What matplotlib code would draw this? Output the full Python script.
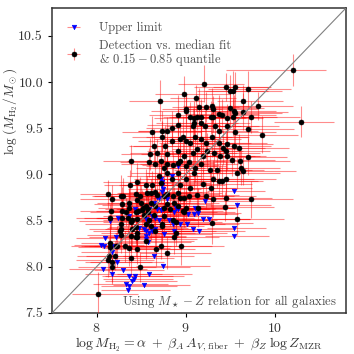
import matplotlib
matplotlib.use("Agg")
import matplotlib.pyplot as plt

plt.rcParams['font.family'] = 'serif'
plt.rcParams['font.serif'] = ['cmr10', 'DejaVu Serif']
plt.rcParams['mathtext.fontset'] = 'cm'
plt.rcParams['axes.formatter.use_mathtext'] = True

# detections: median fit (x) vs measured (y)
det_x = [10.21, 10.30, 9.21, 9.45, 9.50, 9.53, 9.56, 9.70, 8.98, 9.12,
         8.71, 9.01, 9.01, 9.15, 9.23, 9.30, 9.31, 9.50, 9.54, 9.56,
         9.65, 9.65, 9.81, 9.73, 8.92, 9.05, 9.10, 9.13, 9.17, 9.28,
         9.31, 9.37, 9.41, 9.47, 9.53, 8.92, 8.74, 8.79, 8.85, 9.09,
         9.08, 9.17, 9.22, 9.33, 9.38, 9.47, 9.56, 9.70, 9.86, 8.73,
         8.85, 8.94, 8.97, 9.01, 9.05, 9.11, 9.17, 9.23, 9.30, 9.38,
         9.42, 9.46, 9.54, 9.60, 8.64, 8.77, 8.60, 8.68, 8.66, 8.79,
         8.91, 8.98, 9.08, 9.13, 9.20, 9.24, 9.32, 9.39, 9.45, 9.47,
         9.52, 9.61, 9.70, 8.39, 8.59, 8.72, 8.79, 8.86, 8.92, 8.94,
         9.00, 9.04, 9.11, 9.17, 9.27, 9.35, 9.62, 9.64, 8.76, 8.38,
         8.45, 8.55, 8.62, 8.70, 8.72, 8.79, 8.85, 8.91, 8.94, 9.01,
         9.09, 9.20, 9.31, 9.37, 9.41, 9.45, 9.58, 8.13, 8.30, 8.27,
         8.44, 8.49, 8.57, 8.61, 8.66, 8.68, 8.76, 8.79, 8.86, 8.91,
         8.94, 8.98, 9.04, 9.13, 9.23, 9.31, 9.45, 9.73, 8.17, 8.29,
         8.36, 8.45, 8.50, 8.52, 8.56, 8.58, 8.61, 8.66, 8.76, 8.79,
         8.87, 8.92, 8.97, 9.01, 9.14, 9.44, 8.16, 8.29, 8.33, 8.36,
         8.44, 8.47, 8.51, 8.15, 8.29, 8.35, 8.40, 8.45, 8.53, 8.58,
         8.59, 8.65, 8.76, 8.86, 8.98, 9.30, 9.58, 8.27, 8.39, 8.44,
         8.55, 8.61, 8.73, 8.74, 8.89, 8.26, 8.28, 8.40, 8.45, 8.66,
         8.87, 8.89, 8.27, 8.39, 8.44, 8.45, 8.15, 8.15, 8.22, 8.23,
         8.32, 8.36, 8.45, 8.55, 8.67, 8.72, 8.95, 8.79, 8.14, 8.21,
         8.39, 8.13, 8.17, 8.49, 8.17, 8.02, 8.62, 9.28, 9.05, 8.83]
det_y = [10.13, 9.57, 9.98, 9.95, 9.90, 9.90, 9.95, 9.92, 9.87, 9.83,
         9.80, 9.71, 9.69, 9.73, 9.73, 9.74, 9.71, 9.72, 9.69, 9.66,
         9.79, 9.68, 9.74, 9.62, 9.64, 9.62, 9.61, 9.62, 9.62, 9.62,
         9.62, 9.65, 9.64, 9.61, 9.62, 9.54, 9.47, 9.47, 9.50, 9.56,
         9.52, 9.56, 9.52, 9.52, 9.47, 9.52, 9.46, 9.49, 9.43, 9.40,
         9.36, 9.38, 9.41, 9.36, 9.34, 9.41, 9.38, 9.34, 9.40, 9.34,
         9.29, 9.33, 9.31, 9.29, 9.31, 9.31, 9.22, 9.23, 9.11, 9.22,
         9.25, 9.20, 9.23, 9.27, 9.20, 9.25, 9.23, 9.20, 9.25, 9.20,
         9.16, 9.15, 9.19, 9.15, 9.13, 9.15, 9.11, 9.10, 9.12, 9.14,
         9.09, 9.13, 9.07, 9.11, 9.05, 9.05, 9.07, 9.04, 9.07, 8.89,
         8.92, 8.89, 8.89, 8.98, 8.91, 9.02, 8.95, 9.02, 8.89, 8.95,
         9.02, 8.90, 8.95, 8.93, 8.93, 8.95, 9.01, 8.79, 8.77, 8.77,
         8.79, 8.77, 8.80, 8.80, 8.81, 8.78, 8.77, 8.79, 8.77, 8.80,
         8.74, 8.74, 8.77, 8.78, 8.77, 8.73, 8.74, 8.73, 8.73, 8.68,
         8.69, 8.72, 8.69, 8.64, 8.66, 8.63, 8.69, 8.66, 8.64, 8.68,
         8.69, 8.66, 8.60, 8.64, 8.64, 8.65, 8.60, 8.60, 8.59, 8.64,
         8.59, 8.60, 8.61, 8.53, 8.53, 8.53, 8.51, 8.52, 8.56, 8.59,
         8.51, 8.56, 8.55, 8.51, 8.59, 8.47, 8.52, 8.46, 8.48, 8.43,
         8.46, 8.44, 8.46, 8.44, 8.48, 8.39, 8.41, 8.41, 8.37, 8.39,
         8.32, 8.37, 8.34, 8.33, 8.32, 8.32, 8.26, 8.21, 8.22, 8.22,
         8.22, 8.20, 8.19, 8.28, 8.19, 8.23, 8.23, 8.15, 8.12, 8.12,
         8.09, 8.07, 8.05, 8.00, 8.00, 7.70, 9.46, 8.85, 8.85, 8.62]
det_xlo = [0.76, 0.31, 0.30, 0.35, 0.28, 0.40, 0.25, 0.45, 0.32, 0.30,
           0.35, 0.28, 0.40, 0.30, 0.25, 0.33, 0.38, 0.30, 0.42, 0.28,
           0.30, 0.35, 0.27, 0.40, 0.33, 0.30, 0.45, 0.28, 0.36, 0.30,
           0.25, 0.38, 0.32, 0.40, 0.30, 0.35, 0.28, 0.33, 0.30, 0.42,
           0.30, 0.27, 0.36, 0.34, 0.40, 0.30, 0.28, 0.35, 0.30, 0.33,
           0.38, 0.30, 0.42, 0.28, 0.35, 0.30, 0.33, 0.40, 0.27, 0.36,
           0.30, 0.35, 0.40, 0.32, 0.28, 0.36, 0.33, 0.30, 0.38, 0.29,
           0.34, 0.30, 0.42, 0.28, 0.35, 0.31, 0.38, 0.30, 0.33, 0.40,
           0.30, 0.28, 0.36, 0.32, 0.33, 0.38, 0.30, 0.35, 0.29, 0.40,
           0.31, 0.36, 0.30, 0.28, 0.40, 0.33, 0.30, 0.35, 0.32, 0.30,
           0.38, 0.30, 0.33, 0.36, 0.28, 0.40, 0.30, 0.35, 0.31, 0.34,
           0.30, 0.36, 0.29, 0.40, 0.33, 0.30, 0.38, 0.32, 0.35, 0.30,
           0.28, 0.35, 0.32, 0.38, 0.30, 0.34, 0.40, 0.30, 0.33, 0.36,
           0.30, 0.38, 0.31, 0.35, 0.29, 0.40, 0.33, 0.30, 0.36, 0.32,
           0.35, 0.30, 0.38, 0.33, 0.30, 0.36, 0.28, 0.40, 0.32, 0.30,
           0.33, 0.30, 0.36, 0.29, 0.38, 0.31, 0.35, 0.30, 0.40, 0.34,
           0.30, 0.35, 0.32, 0.38, 0.28, 0.36, 0.33, 0.30, 0.40, 0.31,
           0.36, 0.30, 0.33, 0.38, 0.31, 0.35, 0.29, 0.40, 0.32, 0.30,
           0.32, 0.38, 0.30, 0.35, 0.33, 0.30, 0.36, 0.31, 0.40, 0.29,
           0.30, 0.34, 0.38, 0.31, 0.35, 0.30, 0.33, 0.36, 0.30, 0.40,
           0.35, 0.30, 0.32, 0.38, 0.30, 0.40, 0.34, 0.30, 0.36, 0.33,
           0.31, 0.36, 0.30, 0.34, 0.38, 0.30, 0.33, 0.35, 0.30, 0.37]
det_xhi = [0.37, 0.37, 0.45, 0.50, 0.42, 0.55, 0.40, 0.48, 0.52, 0.45,
           0.50, 0.40, 0.55, 0.45, 0.60, 0.42, 0.50, 0.38, 0.47, 0.52,
           0.44, 0.50, 0.40, 0.55, 0.48, 0.42, 0.58, 0.45, 0.50, 0.40,
           0.52, 0.45, 0.60, 0.40, 0.50, 0.47, 0.55, 0.42, 0.48, 0.50,
           0.45, 0.55, 0.40, 0.50, 0.43, 0.58, 0.46, 0.52, 0.40, 0.49,
           0.50, 0.44, 0.55, 0.42, 0.48, 0.60, 0.45, 0.50, 0.40, 0.53,
           0.47, 0.52, 0.42, 0.56, 0.45, 0.50, 0.40, 0.55, 0.48, 0.44,
           0.55, 0.42, 0.50, 0.46, 0.58, 0.40, 0.52, 0.45, 0.50, 0.43,
           0.48, 0.56, 0.44, 0.50, 0.42, 0.55, 0.47, 0.52, 0.40, 0.50,
           0.45, 0.50, 0.58, 0.42, 0.48, 0.53, 0.44, 0.60, 0.46, 0.50,
           0.52, 0.44, 0.50, 0.47, 0.55, 0.42, 0.58, 0.45, 0.50, 0.48,
           0.43, 0.55, 0.46, 0.50, 0.40, 0.57, 0.48, 0.52, 0.44, 0.50,
           0.50, 0.46, 0.55, 0.42, 0.52, 0.48, 0.45, 0.58, 0.44, 0.50,
           0.54, 0.44, 0.50, 0.47, 0.56, 0.42, 0.52, 0.48, 0.45, 0.55,
           0.46, 0.52, 0.43, 0.58, 0.48, 0.50, 0.44, 0.55, 0.47, 0.50,
           0.50, 0.56, 0.45, 0.52, 0.42, 0.55, 0.48, 0.60, 0.44, 0.50,
           0.48, 0.44, 0.57, 0.50, 0.46, 0.52, 0.42, 0.55, 0.50, 0.45,
           0.55, 0.48, 0.50, 0.44, 0.58, 0.46, 0.52, 0.43, 0.50, 0.56,
           0.45, 0.50, 0.54, 0.47, 0.52, 0.44, 0.60, 0.48, 0.50, 0.46,
           0.50, 0.57, 0.44, 0.52, 0.48, 0.55, 0.45, 0.50, 0.58, 0.47,
           0.52, 0.46, 0.50, 0.55, 0.44, 0.58, 0.48, 0.50, 0.45, 0.53,
           0.48, 0.52, 0.45, 0.56, 0.50, 0.44, 0.55, 0.47, 0.52, 0.50]
det_yerr = [0.17, 0.17, 0.20, 0.15, 0.18, 0.22, 0.16, 0.20, 0.19, 0.14,
            0.22, 0.15, 0.18, 0.20, 0.16, 0.19, 0.14, 0.21, 0.17, 0.15,
            0.18, 0.20, 0.15, 0.17, 0.22, 0.16, 0.19, 0.14, 0.20, 0.18,
            0.16, 0.21, 0.18, 0.15, 0.20, 0.17, 0.22, 0.15, 0.19, 0.16,
            0.20, 0.15, 0.18, 0.21, 0.16, 0.19, 0.17, 0.14, 0.20, 0.18,
            0.15, 0.19, 0.22, 0.16, 0.18, 0.20, 0.15, 0.17, 0.21, 0.16,
            0.19, 0.16, 0.20, 0.15, 0.18, 0.22, 0.17, 0.15, 0.20, 0.18,
            0.16, 0.21, 0.15, 0.19, 0.17, 0.20, 0.16, 0.18, 0.22, 0.15,
            0.18, 0.15, 0.20, 0.17, 0.16, 0.19, 0.21, 0.15, 0.18, 0.20,
            0.16, 0.19, 0.15, 0.22, 0.17, 0.20, 0.18, 0.15, 0.19, 0.16,
            0.20, 0.17, 0.15, 0.19, 0.22, 0.16, 0.18, 0.20, 0.15, 0.17,
            0.19, 0.15, 0.21, 0.16, 0.18, 0.20, 0.17, 0.15, 0.19, 0.22,
            0.16, 0.20, 0.18, 0.15, 0.17, 0.21, 0.19, 0.16, 0.20, 0.15,
            0.18, 0.16, 0.20, 0.22, 0.15, 0.19, 0.17, 0.20, 0.16, 0.18,
            0.21, 0.15, 0.19, 0.17, 0.20, 0.16, 0.18, 0.22, 0.15, 0.19,
            0.17, 0.20, 0.15, 0.18, 0.21, 0.16, 0.19, 0.17, 0.15, 0.20,
            0.18, 0.16, 0.22, 0.15, 0.19, 0.17, 0.20, 0.16, 0.18, 0.21,
            0.15, 0.19, 0.17, 0.20, 0.16, 0.22, 0.18, 0.15, 0.19, 0.17,
            0.20, 0.16, 0.18, 0.21, 0.15, 0.19, 0.17, 0.22, 0.16, 0.20,
            0.18, 0.15, 0.19, 0.17, 0.21, 0.16, 0.20, 0.18, 0.15, 0.22,
            0.17, 0.19, 0.16, 0.20, 0.18, 0.15, 0.21, 0.17, 0.19, 0.16,
            0.20, 0.18, 0.22, 0.16, 0.19, 0.24, 0.17, 0.20, 0.15, 0.18]

# upper limits
lim_x = [8.72, 8.73, 8.73, 8.75, 8.74, 8.85, 8.91, 8.68, 8.70, 8.65,
         8.79, 8.89, 8.59, 8.68, 8.72, 8.75, 8.47, 8.56, 8.59, 8.62,
         8.66, 8.70, 8.43, 8.36, 8.24, 8.15, 8.37, 9.03, 9.09, 9.14,
         9.20, 9.26, 8.81, 8.86, 8.94, 9.02, 9.08, 9.15, 9.54, 9.54,
         9.58, 9.54, 9.22, 9.11, 8.92, 8.87, 8.48, 8.53, 8.56, 8.59,
         8.55, 8.56, 8.58, 8.62, 8.66, 8.76, 8.87, 8.09, 8.05, 8.08,
         8.17, 8.17, 8.23, 8.30, 8.07, 8.17, 8.64, 8.75, 8.59, 8.36,
         8.43, 8.42, 8.40, 8.33, 8.37, 8.35, 8.53, 8.22]
lim_y = [8.95, 8.92, 8.88, 8.84, 8.81, 8.98, 9.09, 8.75, 8.74, 8.69,
         8.73, 8.64, 8.63, 8.63, 8.61, 8.63, 8.59, 8.52, 8.50, 8.55,
         8.53, 8.51, 8.63, 8.67, 8.53, 8.49, 8.55, 8.57, 8.57, 8.58,
         8.52, 8.52, 8.51, 8.46, 8.46, 8.46, 8.41, 8.39, 8.42, 8.33,
         8.67, 8.82, 8.71, 8.64, 8.62, 8.59, 8.42, 8.41, 8.39, 8.37,
         8.33, 8.30, 8.27, 8.39, 8.41, 8.35, 8.39, 8.31, 8.24, 8.23,
         8.22, 8.16, 8.05, 7.96, 7.98, 7.92, 8.12, 8.01, 7.92, 7.90,
         7.90, 7.87, 7.85, 7.81, 7.79, 7.75, 7.80, 8.32]
lim_xlo = [0.30, 0.35, 0.28, 0.40, 0.32, 0.30, 0.36, 0.33, 0.38, 0.30,
           0.34, 0.30, 0.36, 0.29, 0.33, 0.38, 0.30, 0.35, 0.32, 0.30,
           0.36, 0.31, 0.33, 0.30, 0.38, 0.35, 0.30, 0.32, 0.36, 0.30,
           0.34, 0.30, 0.38, 0.31, 0.35, 0.30, 0.33, 0.36, 0.30, 0.32,
           0.35, 0.30, 0.37, 0.31, 0.34, 0.30, 0.36, 0.32, 0.30, 0.38,
           0.33, 0.30, 0.35, 0.31, 0.36, 0.30, 0.34, 0.32, 0.30, 0.37,
           0.31, 0.35, 0.30, 0.33, 0.38, 0.30, 0.34, 0.31, 0.36, 0.30,
           0.33, 0.35, 0.30, 0.37, 0.32, 0.30, 0.34, 0.31]
lim_xhi = [0.50, 0.45, 0.55, 0.42, 0.52, 0.48, 0.44, 0.56, 0.46, 0.50,
           0.53, 0.45, 0.50, 0.58, 0.44, 0.52, 0.48, 0.55, 0.46, 0.50,
           0.43, 0.57, 0.48, 0.52, 0.45, 0.50, 0.55, 0.44, 0.50, 0.48,
           0.52, 0.46, 0.54, 0.45, 0.50, 0.58, 0.47, 0.52, 0.36, 0.40,
           0.38, 0.35, 0.50, 0.46, 0.53, 0.48, 0.55, 0.44, 0.50, 0.52,
           0.46, 0.57, 0.48, 0.50, 0.45, 0.54, 0.47, 0.52, 0.48, 0.55,
           0.44, 0.50, 0.53, 0.46, 0.50, 0.57, 0.45, 0.52, 0.48, 0.50,
           0.55, 0.44, 0.50, 0.47, 0.53, 0.48, 0.52, 0.46]

lims = [7.5, 10.8]

fig = plt.figure(figsize=(3.54, 3.54), dpi=100)
ax = fig.add_axes([0.147, 0.116, 0.83, 0.861])

ax.errorbar(lim_x, lim_y, xerr=[lim_xlo, lim_xhi], fmt='v', color='blue',
            ms=3.3, mew=0.4, ecolor='red', elinewidth=0.8, capsize=0,
            label='Upper limit', zorder=3)
ax.errorbar(det_x, det_y, xerr=[det_xlo, det_xhi], yerr=det_yerr, fmt='o',
            color='black', ms=3.6, mew=0.4, ecolor='red', elinewidth=0.8, capsize=0,
            label='Detection vs. median fit\n& $0.15-0.85$ quantile', zorder=3)
for c in ax.collections:
    c.set_alpha(0.45)

ax.plot(lims, lims, color='gray', lw=0.8, zorder=4)
ax.set_xlim(lims)
ax.set_ylim(lims)
ax.set_xticks([8, 9, 10])
ax.set_yticks([7.5, 8.0, 8.5, 9.0, 9.5, 10.0, 10.5])
ax.set_yticklabels(['7.5', '8.0', '8.5', '9.0', '9.5', '10.0', '10.5'])
ax.tick_params(labelsize=10, length=3, labelcolor='0.2')
for s in ax.spines.values():
    s.set_linewidth(1.1)
    s.set_color('0.2')

ax.set_xlabel(r'$\log M_{\rm H_2} = \alpha\;+\;\beta_A\,A_{V,\,\rm fiber}\;+\;\beta_Z\;\log Z_{\rm MZR}$',
              fontsize=10, labelpad=0, color='0.2')
ax.set_ylabel(r'$\log\,(M_{\rm H_2}/M_\odot)$', fontsize=9.5, color='0.2')
ax.yaxis.set_label_coords(-0.11, 0.66)
ax.text(0.97, 0.01, r'Using $M_\star - Z$ relation for all galaxies',
        transform=ax.transAxes, ha='right', va='bottom', fontsize=9.2, color='0.3')
leg = ax.legend(loc='upper left', bbox_to_anchor=(0.018, 0.988), frameon=False,
                fontsize=9, handlelength=1.0, handletextpad=1.5,
                borderaxespad=0.4, labelspacing=0.45, labelcolor='0.3')
for t in leg.get_texts():
    t.set_linespacing(0.95)

fig.savefig('out.png', dpi=100)
